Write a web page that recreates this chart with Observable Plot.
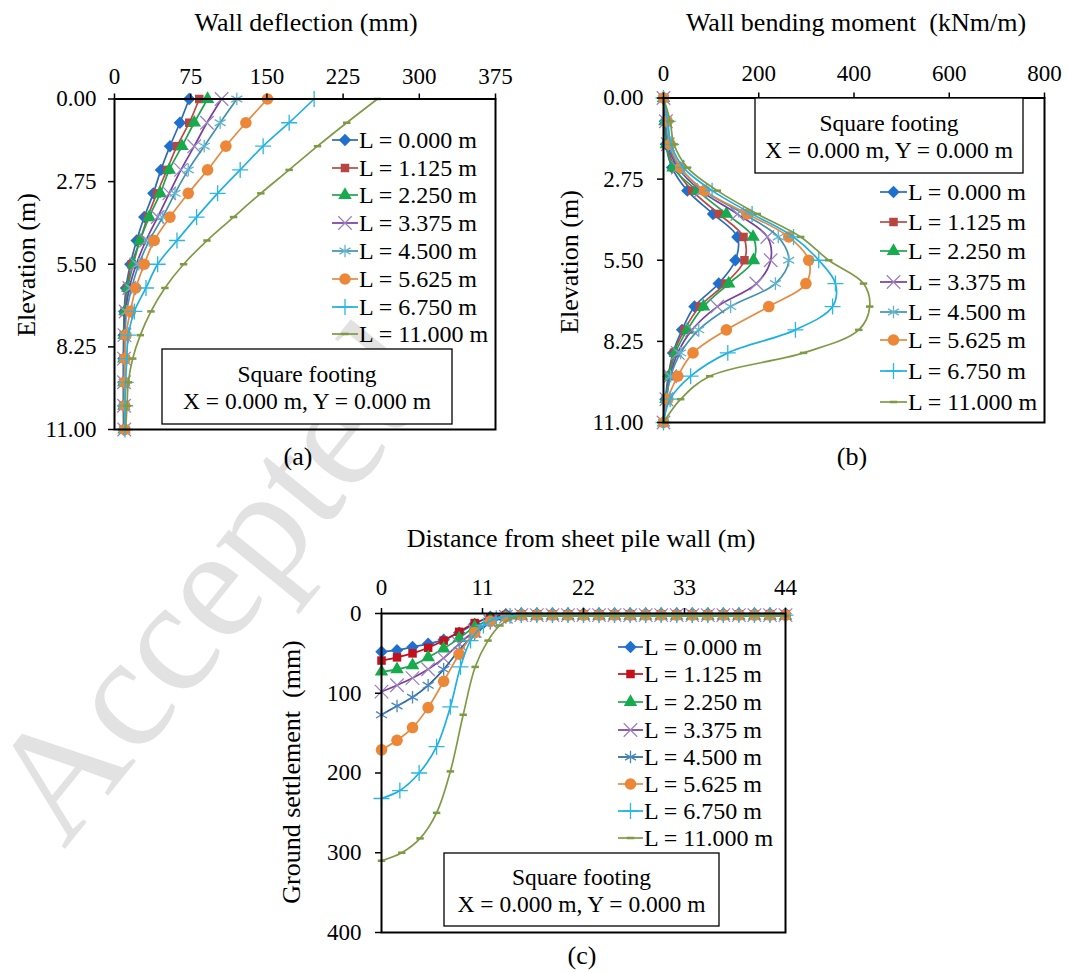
<!DOCTYPE html>
<html>
<head>
<meta charset="utf-8">
<script src="https://cdn.jsdelivr.net/npm/d3@7"></script>
<script src="https://cdn.jsdelivr.net/npm/@observablehq/plot@0.6"></script>
<style>
  html, body { margin: 0; padding: 0; background: #fff; }
  body { position: relative; width: 1068px; height: 973px; overflow: hidden; }
  .layer { position: absolute; left: 0; top: 0; }
  .panel { position: absolute; }
  .panel svg { overflow: visible; }
</style>
</head>
<body>
<script>
// ---------------- data ----------------
const seriesLabels = ["L = 0.000 m", "L = 1.125 m", "L = 2.250 m", "L = 3.375 m",
                      "L = 4.500 m", "L = 5.625 m", "L = 6.750 m", "L = 11.000 m"];

// (a)/(b): elevation below top of wall (m)
const elevations = [0, 0.79, 1.57, 2.36, 3.14, 3.93, 4.71, 5.50, 6.29, 7.07, 7.86, 8.64, 9.43, 10.21, 11.00];

// (a) wall deflection (mm)
const deflectionL0000  = [73.5, 64.4, 54.6, 45.7, 38.2, 29.3, 21.8, 15.6, 11.3, 9.6, 9.0, 8.8, 8.8, 8.8, 9.0];
const deflectionL1125  = [83.4, 73.6, 61.5, 51.6, 41.8, 32.6, 25.1, 16.9, 12.3, 10.0, 9.3, 9.0, 9.0, 9.0, 9.2];
const deflectionL2250  = [91.6, 78.5, 66.4, 53.9, 45.0, 34.2, 25.1, 18.5, 13.0, 10.3, 9.5, 9.2, 9.2, 9.2, 9.4];
const deflectionL3375  = [105.4, 91.0, 78.5, 65.4, 53.9, 42.5, 31.0, 21.5, 14.6, 11.0, 9.8, 9.4, 9.4, 9.4, 9.6];
const deflectionL4500  = [120.4, 104.0, 88.3, 72.6, 59.5, 47.4, 34.2, 24.0, 16.9, 12.0, 10.3, 9.7, 9.6, 9.6, 9.8];
const deflectionL5625  = [150.6, 129.3, 109.6, 91.6, 72.6, 54.6, 39.1, 29.3, 21.0, 15.6, 11.3, 10.3, 10.0, 10.0, 10.2];
const deflectionL6750  = [196.5, 171.9, 146.3, 123.7, 101.5, 80.8, 61.5, 42.5, 31.0, 19.5, 13.6, 12.0, 11.0, 10.5, 10.3];
const deflectionL11000 = [258.8, 228.6, 199.8, 171.9, 144.0, 117.2, 91.0, 68.0, 49.6, 35.9, 25.4, 17.9, 13.6, 12.3, 11.0];

// (b) wall bending moment (kNm/m)
const momentL0000  = [0, 3, 5, 18, 50, 104, 155, 151, 116, 65, 39, 20, 10, 4, 0];
const momentL1125  = [0, 4, 7, 24, 60, 116, 168, 170, 130, 76, 44, 22, 11, 5, 0];
const momentL2250  = [0, 3, 6, 20, 71, 132, 188, 189, 137, 84, 50, 25, 12, 5, 0];
const momentL3375  = [0, 5, 9, 30, 78, 155, 218, 225, 195, 113, 60, 30, 14, 6, 0];
const momentL4500  = [0, 6, 10, 35, 85, 168, 241, 263, 235, 141, 74, 36, 15, 6, 0];
const momentL5625  = [0, 8, 14, 36, 86, 176, 263, 305, 299, 221, 132, 62, 30, 9, 0];
const momentL6750  = [0, 9, 16, 42, 102, 186, 273, 326, 361, 355, 277, 135, 57, 14, 0];
const momentL11000 = [0, 14, 22, 50, 113, 197, 288, 347, 420, 433, 410, 294, 97, 36, 0];

// (c) distance from sheet pile wall (m)
const distance = [0, 1.69, 3.38, 5.08, 6.77, 8.46, 10.15, 11.85, 13.54, 15.23, 16.92, 18.62, 20.31, 22.00,
                  23.69, 25.38, 27.08, 28.77, 30.46, 32.15, 33.85, 35.54, 37.23, 38.92, 40.62, 42.31, 44.00];
const distanceL6750  = [0, 2.0, 4.1, 6.0, 7.5, 8.6, 9.7, 11.1, 12.5, 14.0, 15.23, 16.92, 18.62, 20.31, 22.00,
                        23.69, 25.38, 27.08, 28.77, 30.46, 32.15, 33.85, 35.54, 37.23, 38.92, 40.62, 42.31, 44.00];
const distanceL11000 = [0, 2.2, 4.2, 6.0, 7.5, 8.9, 10.2, 11.6, 12.9, 14.2, 15.23, 16.92, 18.62, 20.31, 22.00,
                        23.69, 25.38, 27.08, 28.77, 30.46, 32.15, 33.85, 35.54, 37.23, 38.92, 40.62, 42.31, 44.00];

// (c) ground settlement (mm)
const settlementL0000  = [48, 46, 42, 38, 33, 24, 13, 4, 1, 0, 0, 0, 0, 0, 0, 0, 0, 0, 0, 0, 0, 0, 0, 0, 0, 0, 0];
const settlementL1125  = [59, 55, 50, 43, 34, 23, 12, 5, 2, 1, 1, 1, 1, 1, 1, 1, 1, 1, 1, 1, 1, 1, 1, 1, 1, 1, 1];
const settlementL2250  = [73, 70, 65, 55, 44, 31, 17, 8, 4, 3, 3, 3, 3, 3, 3, 3, 3, 3, 3, 3, 3, 3, 3, 3, 3, 3, 3];
const settlementL3375  = [98, 90, 81, 70, 56, 38, 22, 10, 4, 2, 2, 2, 2, 2, 2, 2, 2, 2, 2, 2, 2, 2, 2, 2, 2, 2, 2];
const settlementL4500  = [127, 116, 105, 90, 70, 46, 26, 12, 5, 3, 3, 3, 3, 3, 3, 3, 3, 3, 3, 3, 3, 3, 3, 3, 3, 3, 3];
const settlementL5625  = [171, 159, 143, 118, 85, 51, 24, 10, 4, 2, 2, 2, 2, 2, 2, 2, 2, 2, 2, 2, 2, 2, 2, 2, 2, 2, 2];
const settlementL6750  = [232, 222, 200, 167, 117, 67, 34, 15, 6, 3, 2, 2, 2, 2, 2, 2, 2, 2, 2, 2, 2, 2, 2, 2, 2, 2, 2, 2];
const settlementL11000 = [310, 300, 282, 250, 198, 127, 67, 34, 15, 6, 3, 3, 3, 3, 3, 3, 3, 3, 3, 3, 3, 3, 3, 3, 3, 3, 3, 3];

// tick values
const deflectionTicks = [0, 75, 150, 225, 300, 375];
const momentTicks = [0, 200, 400, 600, 800];
const elevationTicks = [0, 2.75, 5.5, 8.25, 11];
const distanceTicks = [0, 11, 22, 33, 44];
const settlementTicks = [0, 100, 200, 300, 400];

// ---------------- styles ----------------
const FONT = '"Liberation Serif","Times New Roman",serif';

// short horizontal bar used for the L = 11.000 m series
const symbolDash = {
  draw(ctx, size) {
    const w = Math.sqrt(size) * 0.5, h = Math.sqrt(size) * 0.17;
    ctx.moveTo(-w, -h); ctx.lineTo(w, -h); ctx.lineTo(w, h); ctx.lineTo(-w, h); ctx.closePath();
  }
};
const markerSymbols = [d3.symbolDiamond2, d3.symbolSquare, d3.symbolTriangle, d3.symbolTimes,
                       d3.symbolAsterisk, d3.symbolCircle, d3.symbolPlus, symbolDash];
const markerFilled = [true, true, true, false, false, true, false, true];
const markerRadius = [5.6, 4.8, 5.0, 6.2, 6.0, 5.8, 5.2, 4.2];

const lineColorsAB   = ["#2a6bb8", "#b94a47", "#20a34f", "#7a3e9e", "#3f93b0", "#e88a3e", "#1fb0e2", "#7f9a45"];
const markerColorsAB = ["#1f6fcf", "#b84542", "#16ab4d", "#9c82c0", "#62b4cc", "#ec8738", "#2ab6e6", "#7f9a45"];
const lineColorsC    = ["#2a6bb8", "#c0101e", "#20a34f", "#7a3e9e", "#2a659e", "#e88a3e", "#1fb0e2", "#7f9a45"];
const markerColorsC  = ["#1f6fcf", "#c40f1d", "#16ab4d", "#9c82c0", "#4a86c0", "#ec8738", "#2ab6e6", "#7f9a45"];

// ---------------- helpers ----------------
function seriesMarks(series, lineColors, markerColors) {
  const out = [];
  series.forEach((s, k) => {
    const rows = s.x.map((x, i) => ({x, y: s.y[i]}));
    out.push(Plot.line(rows, {x: "x", y: "y", stroke: lineColors[k], strokeWidth: 1.7, curve: "catmull-rom"}));
    out.push(Plot.dot(rows, {
      x: "x", y: "y", symbol: markerSymbols[k], r: markerRadius[k],
      fill: markerFilled[k] ? markerColors[k] : "none",
      stroke: markerFilled[k] ? "none" : markerColors[k],
      strokeWidth: markerFilled[k] ? 0 : 1.3
    }));
  });
  return out;
}

function panel(o) {
  const chart = Plot.plot({
    width: o.width, height: o.height,
    marginLeft: o.margin[3], marginRight: o.margin[1], marginTop: o.margin[0], marginBottom: o.margin[2],
    x: {domain: o.xDomain, label: null},
    y: {domain: o.yDomain, reverse: true, label: null},
    style: {fontFamily: FONT, fontSize: "23px", color: "#000", background: "transparent", overflow: "visible"},
    marks: [
      ...seriesMarks(o.series, o.lineColors, o.markerColors),
      Plot.frame({stroke: "#000", strokeWidth: 2}),
      Plot.axisX(o.xTicks, {anchor: "top", tickSize: 6, tickPadding: o.xPad, fontSize: 23, strokeWidth: 1.5,
                            label: null, tickFormat: d => String(d)}),
      Plot.axisY(o.yTicks, {anchor: "left", tickSize: 6, tickPadding: o.yPad, fontSize: 23, strokeWidth: 1.5,
                            label: null, tickFormat: o.yFormat})
    ]
  });
  const div = document.createElement("div");
  div.className = "panel";
  div.style.left = o.left + "px";
  div.style.top = o.top + "px";
  div.style.zIndex = 1;
  div.appendChild(chart);
  document.body.appendChild(div);
}

// ---------------- background lettering ----------------
const bg = d3.select(document.body).append("svg").attr("class", "layer")
  .attr("width", 1068).attr("height", 973).style("z-index", 0);
bg.append("text")
  .attr("transform", "translate(64,850) rotate(-51)")
  .attr("font-family", FONT).attr("font-size", 160).attr("fill", "#e2e2e2")
  .text("Accepted");

// ---------------- panels ----------------
panel({
  left: 0, top: 40, width: 530, height: 420, margin: [58.5, 35, 31, 114],
  xDomain: [0, 375], yDomain: [0, 11], xTicks: deflectionTicks, yTicks: elevationTicks,
  xPad: 9, yPad: 12, yFormat: d => d.toFixed(2),
  lineColors: lineColorsAB, markerColors: markerColorsAB,
  series: [deflectionL0000, deflectionL1125, deflectionL2250, deflectionL3375,
           deflectionL4500, deflectionL5625, deflectionL6750, deflectionL11000]
           .map(v => ({x: v, y: elevations}))
});

panel({
  left: 540, top: 40, width: 528, height: 420, margin: [57.5, 24, 38, 123],
  xDomain: [0, 800], yDomain: [0, 11], xTicks: momentTicks, yTicks: elevationTicks,
  xPad: 11, yPad: 14, yFormat: d => d.toFixed(2),
  lineColors: lineColorsAB, markerColors: markerColorsAB,
  series: [momentL0000, momentL1125, momentL2250, momentL3375,
           momentL4500, momentL5625, momentL6750, momentL11000]
           .map(v => ({x: v, y: elevations}))
});

panel({
  left: 280, top: 560, width: 540, height: 400, margin: [53, 35, 28, 101],
  xDomain: [0, 44], yDomain: [0, 400], xTicks: distanceTicks, yTicks: settlementTicks,
  xPad: 13, yPad: 14, yFormat: d => String(d),
  lineColors: lineColorsC, markerColors: markerColorsC,
  series: [
    {x: distance, y: settlementL0000}, {x: distance, y: settlementL1125},
    {x: distance, y: settlementL2250}, {x: distance, y: settlementL3375},
    {x: distance, y: settlementL4500}, {x: distance, y: settlementL5625},
    {x: distanceL6750, y: settlementL6750}, {x: distanceL11000, y: settlementL11000}
  ]
});

// ---------------- titles, legends, notes ----------------
const fg = d3.select(document.body).append("svg").attr("class", "layer")
  .attr("width", 1068).attr("height", 973).style("z-index", 2)
  .attr("font-family", FONT).attr("fill", "#000");

function label(x, y, text, size, rotate) {
  fg.append("text")
    .attr("transform", `translate(${x},${y})` + (rotate ? " rotate(-90)" : ""))
    .attr("text-anchor", "middle").attr("dominant-baseline", "central")
    .style("white-space", "pre")
    .attr("font-size", size).text(text);
}

label(306, 22, "Wall deflection (mm)", 26);
label(856, 22, "Wall bending moment  (kNm/m)", 26);
label(581, 538, "Distance from sheet pile wall (m)", 26);
label(26, 265, "Elevation (m)", 26, true);
label(569, 262, "Elevation (m)", 26, true);
label(291, 772, "Ground settlement  (mm)", 26, true);
label(298, 456, "(a)", 26);
label(852, 456, "(b)", 26);
label(582, 955, "(c)", 26);

function legend(x0, x1, tx, ys, lineColors, markerColors) {
  seriesLabels.forEach((name, k) => {
    const y = ys[k];
    fg.append("line").attr("x1", x0).attr("x2", x1).attr("y1", y).attr("y2", y)
      .attr("stroke", lineColors[k]).attr("stroke-width", 1.7);
    const r = markerRadius[k];
    fg.append("path")
      .attr("transform", `translate(${(x0 + x1) / 2},${y})`)
      .attr("d", d3.symbol(markerSymbols[k], Math.PI * r * r)())
      .attr("fill", markerFilled[k] ? markerColors[k] : "none")
      .attr("stroke", markerFilled[k] ? "none" : markerColors[k])
      .attr("stroke-width", markerFilled[k] ? 0 : 1.3);
    fg.append("text").attr("x", tx).attr("y", y).attr("dominant-baseline", "central")
      .attr("font-size", 24).text(name);
  });
}

legend(332, 358, 359, [140, 168, 195, 223, 251, 279, 307, 334], lineColorsAB, markerColorsAB);
legend(880, 907, 908, [192, 222, 251, 282, 312, 340, 371, 402], lineColorsAB, markerColorsAB);
legend(618, 643, 644, [647, 674, 702, 730, 757, 784, 811, 838], lineColorsC, markerColorsC);

function noteBox(x0, y0, x1, y1) {
  fg.append("rect").attr("x", x0).attr("y", y0).attr("width", x1 - x0).attr("height", y1 - y0)
    .attr("fill", "#fff").attr("stroke", "#000").attr("stroke-width", 1.3);
  const cx = (x0 + x1) / 2, cy = (y0 + y1) / 2;
  fg.append("text").attr("x", cx).attr("y", cy - 13).attr("text-anchor", "middle")
    .attr("dominant-baseline", "central").attr("font-size", 23.5).text("Square footing");
  fg.append("text").attr("x", cx).attr("y", cy + 14).attr("text-anchor", "middle")
    .attr("dominant-baseline", "central").attr("font-size", 23.5).text("X = 0.000 m, Y = 0.000 m");
}

noteBox(162, 349, 452, 424);
noteBox(755, 98, 1023, 173);
noteBox(444, 853, 719, 926);
</script>
</body>
</html>
